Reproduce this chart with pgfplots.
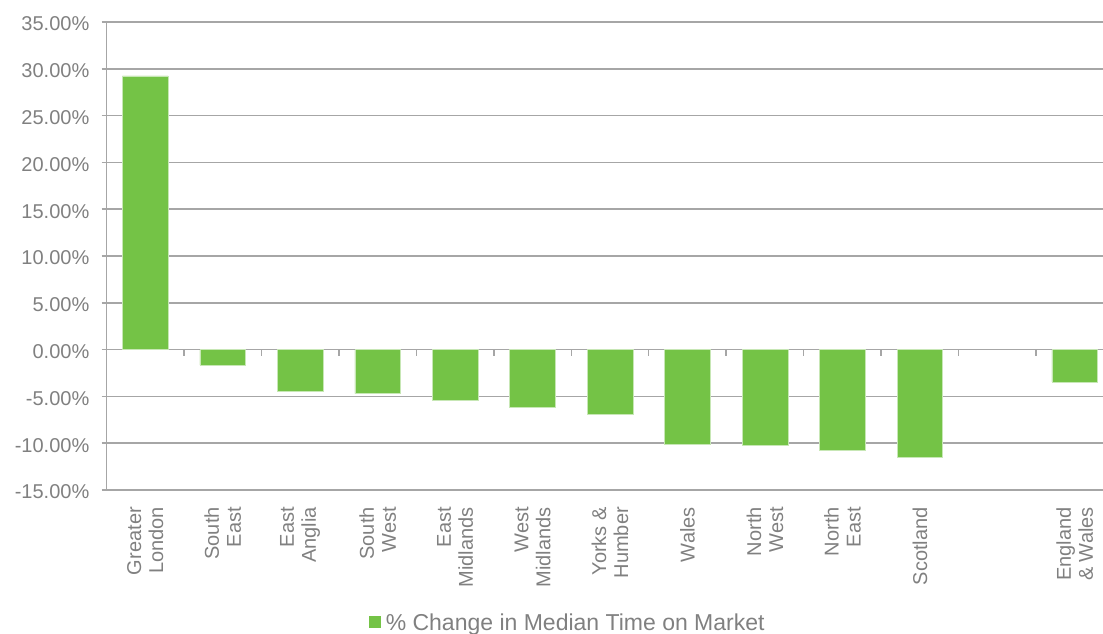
\documentclass[border=0pt]{standalone}
\usepackage{pgfplots}
\pgfplotsset{compat=1.18}
\usepackage{fontspec}
\setmainfont{Liberation Sans}
\definecolor{barg}{RGB}{116,195,70}
\definecolor{txtg}{RGB}{128,128,128}
\definecolor{lineg}{RGB}{166,166,166}
\begin{document}
\begin{tikzpicture}[x=1pt,y=1pt]
\useasboundingbox (0,0) rectangle (1103,633);
\begin{axis}[
  at={(106.5pt,143pt)}, anchor=south west,
  scale only axis, width=1007pt, height=468pt,
  xmin=-0.5, xmax=12.5, ymin=-15, ymax=35,
  axis y line=left, axis x line=bottom,
  axis line style={lineg, line width=1.5pt, -},
  ytick={-15,-10,...,35},
  yticklabels={-15.00\%,-10.00\%,-5.00\%,0.00\%,5.00\%,10.00\%,15.00\%,20.00\%,25.00\%,30.00\%,35.00\%},
  ymajorgrids, grid style={lineg, line width=1.5pt},
  ytick style={lineg, line width=1.5pt},
  tick align=outside, major tick length=5pt,
  yticklabel style={font=\fontsize{20}{22}\selectfont, text=txtg, anchor=east, inner sep=0pt, xshift=-12pt, yshift=-2pt},
  xtick={0,...,12},
  xtick style={draw=none},
  xticklabels={{Greater\\London},{South\\East},{East\\Anglia},{South\\West},{East\\Midlands},{West\\Midlands},{Yorks \&\\Humber},{Wales},{North\\West},{North\\East},{Scotland},{},{England\\\& Wales}},
  xticklabel style={font=\fontsize{20}{22}\selectfont, text=txtg, rotate=90, anchor=east, align=right, inner sep=0pt, xshift=-12pt},
  /pgf/number format/assume math mode=true,
  legend style={at={(axis description cs:0.458,-0.283)}, anchor=center, draw=none, fill=none,
    font=\fontsize{23}{25}\selectfont, text=txtg, inner sep=0pt},
  legend image code/.code={\fill[barg, draw=none] (0pt,-6pt) rectangle (12pt,6pt); \path[draw=none, fill=none] (0pt,0pt) -- (15pt,0pt);},
  clip=false,
]
\addplot[ybar, bar width=0.59, bar shift=0pt, fill=barg, draw=barg!40!white, line width=0.5pt] coordinates {
  (0,29.24) (1,-1.67) (2,-4.5) (3,-4.7) (4,-5.45) (5,-6.2) (6,-6.9)
  (7,-10.1) (8,-10.25) (9,-10.8) (10,-11.5) (12,-3.45)
};
\addlegendentry{\% Change in Median Time on Market}
\pgfplotsinvokeforeach{0.5,1.5,...,11.5}{\draw[lineg, line width=1.5pt] (axis cs:#1,0) -- ++(0pt,-6pt);}
\end{axis}
\end{tikzpicture}
\end{document}
